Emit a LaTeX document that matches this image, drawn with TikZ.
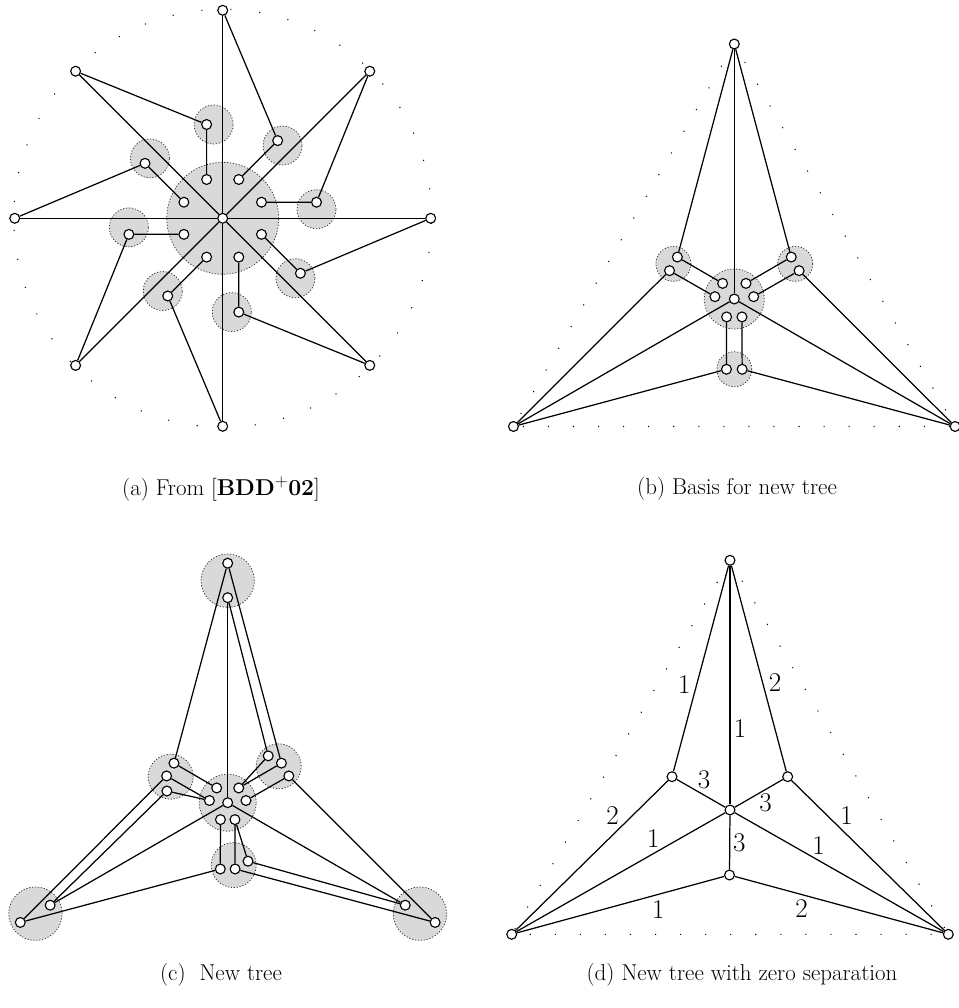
\documentclass[tikz,border=0pt]{standalone}
\usepackage{graphicx}
\usetikzlibrary{calc}
\pgfdeclarelayer{back}
\pgfdeclarelayer{edges}
\pgfsetlayers{back,edges,main}
\tikzset{
  v/.style={circle, draw, fill=white, inner sep=0pt, minimum size=8.4pt, line width=0.95pt},
  e/.style={line width=1.05pt},
  blob/.style={fill=gray!30, draw=black!80, dash pattern=on 1pt off 1.5pt, line width=0.65pt},
  dotsA/.style={line width=0.9pt, dash pattern=on 0.9pt off 23.8pt},
  dotsB/.style={line width=0.9pt, dash pattern=on 0.9pt off 20.4pt},
  lab/.style={font=\fontsize{23}{28}\selectfont, inner sep=0pt},
  captext/.style={font=\fontsize{19.5}{23}\selectfont, inner sep=0pt},
}
\begin{document}
\begin{tikzpicture}[x=0.85pt, y=0.85pt]
\useasboundingbox (0,0) rectangle (959,1008);

% ---------------- (a) ----------------
\begin{scope}[shift={(222.7,789.7)}]
  \node[v] (ac) at (0,0) {};
  \foreach \k [evaluate=\k as \t using 112.5-45*\k] in {0,...,7} {
    \node[v] (ao\k) at (\t+22.5:208) {};
    \node[v] (ai\k) at (\t:42) {};
    \path (ai\k) ++(\t-22.5:55) node[v] (am\k) {};
    \begin{pgfonlayer}{back}
      \filldraw[blob] (am\k) ++(\t-112.5:7) circle (19.5);
    \end{pgfonlayer}
    \begin{pgfonlayer}{edges}
      \draw[e] (ac) -- (ao\k);
      \draw[e] (ai\k) -- (am\k) -- (ao\k);
    \end{pgfonlayer}
  }
  \begin{pgfonlayer}{back}
    \filldraw[blob] (0,0) circle (56);
    \draw[dotsA] (0,0) circle (209);
  \end{pgfonlayer}
\end{scope}

% ---------------- (b) ----------------
\begin{scope}[shift={(734.3,709)}]
  \node[v] (bc) at (0,0) {};
  \foreach \a in {90,210,330} \node[v] (bv\a) at (\a:255) {};
  \foreach \f/\m/\n/\i in {-90/210/330/1,150/90/210/2,30/330/90/3} {
    \path (\f:70.3) ++(\f-90:7.85) node[v] (bp\i) {};
    \path (\f:70.3) ++(\f+90:7.85) node[v] (bq\i) {};
    \node[v] (bip\i) at (\f-23.2:19.5) {};
    \node[v] (biq\i) at (\f+23.2:19.5) {};
    \begin{pgfonlayer}{back}
      \filldraw[blob] (\f:70.3) circle (17.5);
    \end{pgfonlayer}
    \begin{pgfonlayer}{edges}
      \draw[e] (bv\m) -- (bp\i) -- (bip\i);
      \draw[e] (bv\n) -- (bq\i) -- (biq\i);
    \end{pgfonlayer}
  }
  \begin{pgfonlayer}{edges}
    \draw[e] (bc) -- (bv90);
    \draw[e] (bc) -- (bv210);
    \draw[e] (bc) -- (bv330);
  \end{pgfonlayer}
  \begin{pgfonlayer}{back}
    \filldraw[blob] (0,0) circle (30);
    \draw[dotsB] (bv90.center) -- (bv210.center) -- (bv330.center) -- cycle;
  \end{pgfonlayer}
\end{scope}

% ---------------- (c) ----------------
\begin{scope}[shift={(227.7,205.3)}]
  \node[v] (cc) at (0,0) {};
  \foreach \a in {90,210,330} {
    \node[v] (co\a) at (\a:239.5) {};
    \node[v] (cn\a) at (\a:205) {};
    \begin{pgfonlayer}{back}
      \filldraw[blob] (\a:222) circle (26.7);
    \end{pgfonlayer}
    \begin{pgfonlayer}{edges}
      \draw[e] (cc) -- (cn\a);
    \end{pgfonlayer}
  }
  \foreach \f/\m/\n/\i in {-90/210/330/1,150/90/210/2,30/330/90/3} {
    \path (\f:66.3) ++(\f-90:7.4) node[v] (cp\i) {};
    \path (\f:66.3) ++(\f+90:7.4) node[v] (cq\i) {};
    \path (\f:58.5) ++(\f+90:20.3) node[v] (cx\i) {};
    \node[v] (cip\i) at (\f-23.2:18.4) {};
    \node[v] (ciq\i) at (\f+23.2:18.4) {};
    \begin{pgfonlayer}{back}
      \filldraw[blob] (\f:62.4) ++(\f+90:6) circle (22.5);
    \end{pgfonlayer}
    \begin{pgfonlayer}{edges}
      \draw[e] (co\m) -- (cp\i) -- (cip\i);
      \draw[e] (co\n) -- (cq\i) -- (ciq\i);
      \draw[e] (cn\n) -- (cx\i) -- (ciq\i);
    \end{pgfonlayer}
  }
  \begin{pgfonlayer}{back}
    \filldraw[blob] (0,0) circle (28.5);
  \end{pgfonlayer}
\end{scope}

% ---------------- (d) ----------------
\begin{scope}[shift={(730,198)}]
  \node[v] (dc) at (0,0) {};
  \node[v] (dt) at (0,249.7) {};
  \node[v] (dl) at (-218.3,-124.3) {};
  \node[v] (dr) at (218.3,-124.3) {};
  \node[v] (dul) at (-58,33.3) {};
  \node[v] (dur) at (57.7,33.3) {};
  \node[v] (db) at (-0.5,-65) {};
  \begin{pgfonlayer}{edges}
    \draw[e] (dt) -- (dul) node[lab] at (-45.7,125.7) {1};
    \draw[e] (dt) -- (dur) node[lab] at (45,127.3) {2};
    \draw[e] (dt) -- (dc) node[lab] at (10,81.7) {1};
    \draw[e] (dul) -- (dc) node[lab] at (-26,30) {3};
    \draw[e] (dur) -- (dc) node[lab] at (35.7,7.3) {3};
    \draw[e] (dul) -- (dl) node[lab] at (-117.3,-6) {2};
    \draw[e] (dc) -- (dl) node[lab] at (-76.7,-28.3) {1};
    \draw[e] (dc) -- (db) node[lab] at (9.3,-32.7) {3};
    \draw[e] (dc) -- (dr) node[lab] at (88.7,-35.7) {1};
    \draw[e] (dur) -- (dr) node[lab] at (116.7,-6) {1};
    \draw[e] (db) -- (dl) node[lab] at (-71.7,-100) {1};
    \draw[e] (db) -- (dr) node[lab] at (71.7,-98.3) {2};
  \end{pgfonlayer}
  \begin{pgfonlayer}{back}
    \draw[dotsB] (dt.center) -- (dl.center) -- (dr.center) -- cycle;
  \end{pgfonlayer}
\end{scope}

% ---------------- captions ----------------
\node[captext] (capa) at (221,519) {(a) From [\textbf{BDD}$^{+}$\textbf{02}]};
\node[captext] (capb) at (737,519) {(b) Basis for new tree};
\node[captext] (capc) at (221,33) {(c)\ \ New tree};
\node[captext] (capd) at (742,33) {(d) New tree with zero separation};
\end{tikzpicture}
\end{document}
